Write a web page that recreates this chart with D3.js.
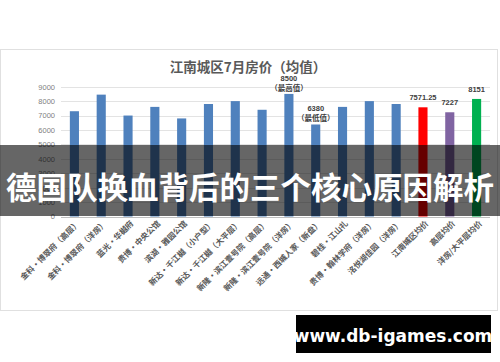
<!DOCTYPE html>
<html>
<head>
<meta charset="utf-8">
<script src="https://cdn.jsdelivr.net/npm/d3@7"></script>
<style>
  body { margin: 0; background: #fff; }
  svg { display: block; }
</style>
</head>
<body>
<div id="chart"></div>
<script>
var svgWidth = 500;
var svgHeight = 362;

// chart data
var categories = [
  "金科·博翠府（高层）", "金科·博翠府（洋房）", "蓝光·华樾府", "贵博·中央公馆",
  "滨湖·雅园公馆", "新达·千江樾（小户型）", "新达·千江樾（大平层）", "新隆·滨江壹号院（高层）",
  "新隆·滨江壹号院（洋房）", "远通·西城人家（新盘）", "碧桂·江山礼", "贵博·翰林学府（洋房）",
  "洺悦湖佳园（洋房）", "江南城区均价", "高层均价", "洋房/大平层均价"
];
var prices = [7300, 8450, 7000, 7600, 6800, 7800, 8000, 7400, 8500, 6380, 7600, 8000, 7800, 7571.25, 7227, 8151];
var barColors = ["#4f81bd", "#4f81bd", "#4f81bd", "#4f81bd", "#4f81bd", "#4f81bd", "#4f81bd", "#4f81bd",
  "#4f81bd", "#4f81bd", "#4f81bd", "#4f81bd", "#4f81bd", "#ff0000", "#8064a2", "#00b050"];
var yTicks = [0, 1000, 2000, 3000, 4000, 5000, 6000, 7000, 8000, 9000];
// value labels: index -> text lines
var notes = [
  { i: 8, lines: ["8500", "（最高值）"] },
  { i: 9, lines: ["6380", "（最低值）"] },
  { i: 13, lines: ["7571.25"] },
  { i: 14, lines: ["7227"] },
  { i: 15, lines: ["8151"] }
];
var chartTitle = "江南城区7月房价（均值）";
var overlayText = "德国队换血背后的三个核心原因解析";
var siteText = "www.db-igames.com";

var svg = d3.select("#chart")
  .append("svg")
  .attr("width", svgWidth)
  .attr("height", svgHeight)
  .style("font-family", "'Noto Sans CJK SC', 'Noto Sans', sans-serif");

// frame
svg.append("rect")
  .attr("x", 0.5).attr("y", 49.5)
  .attr("width", 497).attr("height", 261)
  .attr("fill", "#fff")
  .attr("stroke", "#e0e0e0");

svg.append("text")
  .attr("x", 248).attr("y", 66)
  .attr("text-anchor", "middle")
  .attr("dominant-baseline", "central")
  .attr("font-size", 13.5)
  .attr("font-weight", "bold")
  .attr("fill", "#595959")
  .text(chartTitle);

var x = d3.scaleBand()
  .domain(categories)
  .range([61, 490])
  .paddingInner(0.66)
  .paddingOuter(0.33);

var y = d3.scaleLinear()
  .domain([0, 9000])
  .range([216.5, 86.7]);

// gridlines
svg.append("g")
  .selectAll("line")
  .data(yTicks)
  .enter()
  .append("line")
  .attr("x1", 61).attr("x2", 490)
  .attr("y1", d => Math.round(y(d)) + 0.5)
  .attr("y2", d => Math.round(y(d)) + 0.5)
  .attr("stroke", d => d === 0 ? "#bfbfbf" : "#e3e3e3");

// y axis labels
var leftAxis = d3.axisLeft(y).tickValues(yTicks).tickSize(0).tickPadding(6)
  .tickFormat(d3.format("d"));
var yAxis = svg.append("g")
  .attr("transform", "translate(61,0)")
  .call(leftAxis);
yAxis.select(".domain").remove();
yAxis.selectAll("text")
  .attr("font-family", "'Liberation Sans', sans-serif")
  .attr("font-size", 7.5)
  .attr("fill", "#7f7f7f");

// bars
svg.append("g")
  .selectAll("rect")
  .data(prices)
  .enter()
  .append("rect")
  .attr("x", (d, i) => x(categories[i]))
  .attr("y", d => y(d))
  .attr("width", x.bandwidth())
  .attr("height", d => y(0) - y(d))
  .attr("fill", (d, i) => barColors[i]);

// value notes
var noteG = svg.append("g")
  .attr("font-size", 7.5)
  .attr("font-weight", "bold")
  .attr("fill", "#404040")
  .attr("text-anchor", "middle");
notes.forEach(function(n) {
  var cx = x(categories[n.i]) + x.bandwidth() / 2;
  var top = y(prices[n.i]);
  var gap = n.lines.length > 1 ? 3 : 7;
  n.lines.forEach(function(line, k) {
    noteG.append("text")
      .attr("x", cx)
      .attr("y", top - gap - (n.lines.length - 1 - k) * 10)
      .attr("font-family", k === 0 ? "'Liberation Sans', sans-serif" : null)
      .text(line);
  });
});

// category labels
svg.append("g")
  .selectAll("text")
  .data(categories)
  .enter()
  .append("text")
  .attr("transform", d => `translate(${x(d) + x.bandwidth() / 2 + 4}, 222) rotate(-45)`)
  .attr("text-anchor", "end")
  .attr("dy", "0.35em")
  .attr("font-size", 8)
  .attr("font-weight", "bold")
  .attr("fill", "#595959")
  .text(d => d);

// dark overlay band with headline
svg.append("rect")
  .attr("x", 0).attr("y", 145)
  .attr("width", svgWidth).attr("height", 71)
  .attr("fill", "#000")
  .attr("opacity", 0.6);

svg.append("text")
  .attr("x", 250).attr("y", 186)
  .attr("text-anchor", "middle")
  .attr("dominant-baseline", "central")
  .attr("font-size", 30.5)
  .attr("font-weight", "bold")
  .attr("fill", "#fff")
  .text(overlayText);

// site badge
svg.append("rect")
  .attr("x", 296).attr("y", 315)
  .attr("width", 195).attr("height", 38)
  .attr("fill", "#000");

svg.append("text")
  .attr("x", 393).attr("y", 336)
  .attr("text-anchor", "middle")
  .attr("dominant-baseline", "central")
  .attr("font-family", "'DejaVu Sans', sans-serif")
  .attr("font-size", 17)
  .attr("font-weight", "bold")
  .attr("fill", "#fff")
  .text(siteText);
</script>
</body>
</html>
